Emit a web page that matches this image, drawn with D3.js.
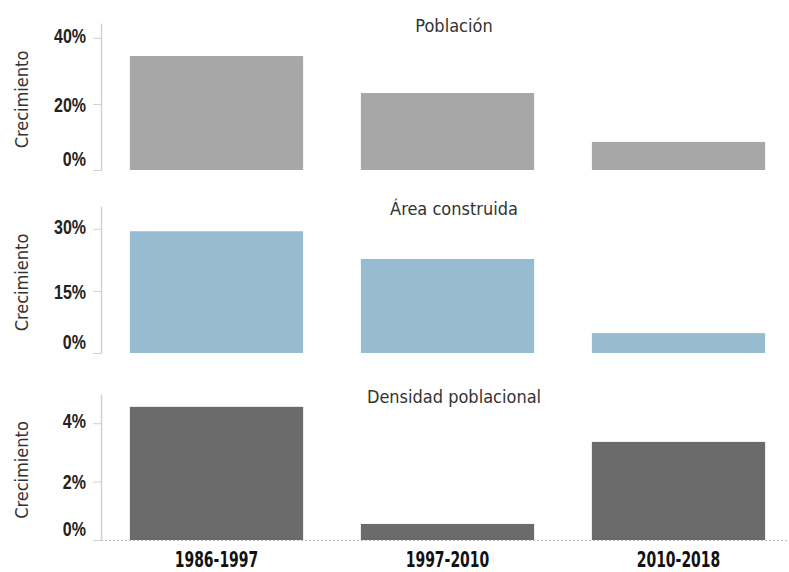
<!DOCTYPE html>
<html>
<head>
  <meta charset="utf-8">
  <script src="https://cdn.jsdelivr.net/npm/d3@7"></script>
  <style>
    body { margin: 0; background: #fff; }
    svg { display: block; font-family: "DejaVu Sans", sans-serif; font-stretch: condensed; }
  </style>
</head>
<body>
<div id="chart"></div>
<script>
  // data
  const periods = ["1986-1997", "1997-2010", "2010-2018"];
  const poblacion = [34.5, 23.3, 8.5];
  const areaConstruida = [29.4, 22.7, 4.8];
  const densidad = [4.56, 0.55, 3.36];

  const titles = ["Población", "Área construida", "Densidad poblacional"];
  const ticksPoblacion = [0, 20, 40];
  const ticksArea = [0, 15, 30];
  const ticksDensidad = [0, 2, 4];
  const yLabel = "Crecimiento";

  const width = 789, height = 572;
  const left = 101, right = 794;
  const tickSqueeze = 0.8;  // narrow the bold labels so they read as condensed
  const labelSqueeze = 0.74;

  const panels = [
    { title: titles[0], values: poblacion, ticks: ticksPoblacion, max: 44.5, top: 23, bottom: 170, color: "#a7a7a7" },
    { title: titles[1], values: areaConstruida, ticks: ticksArea, max: 35.5, top: 206, bottom: 353, color: "#97bbd1" },
    { title: titles[2], values: densidad, ticks: ticksDensidad, max: 5.0, top: 394, bottom: 540, color: "#6b6b6b" }
  ];

  const svg = d3.select("#chart").append("svg")
    .attr("width", width)
    .attr("height", height);

  const x = d3.scaleBand()
    .domain(periods)
    .range([left, right])
    .paddingInner(0.25)
    .paddingOuter(0.125);

  panels.forEach((p, k) => {
    const y = d3.scaleLinear()
      .domain([0, p.max])
      .range([p.bottom, p.top]);

    const g = svg.append("g");

    // dotted baseline only under the last panel
    if (k === panels.length - 1) {
      g.append("line")
        .attr("x1", left).attr("x2", width)
        .attr("y1", y(0) + 0.5).attr("y2", y(0) + 0.5)
        .attr("stroke", "#bbb")
        .attr("stroke-dasharray", "2,2");
    }

    g.selectAll("rect")
      .data(p.values)
      .join("rect")
      .attr("x", (d, i) => x(periods[i]))
      .attr("y", d => y(d))
      .attr("width", x.bandwidth())
      .attr("height", d => y(0) - y(d))
      .attr("fill", p.color);

    const axis = g.append("g")
      .attr("transform", `translate(${left},0)`)
      .call(d3.axisLeft(y).tickValues(p.ticks).tickFormat(d => d + "%").tickSize(8).tickSizeOuter(0));
    axis.select(".domain").attr("stroke", "#d0d0d0").attr("stroke-width", 1.5);
    axis.selectAll(".tick line").attr("stroke", "#d0d0d0");
    const topTick = d3.max(p.ticks);
    axis.selectAll(".tick text")
      .attr("x", -15 / tickSqueeze)
      // the zero label sits above its tick, the top one a little high
      .attr("dy", d => d === 0 ? "-0.25em" : d === topTick ? "0.22em" : "0.36em")
      .attr("transform", `scale(${tickSqueeze},1)`)
      .attr("fill", "#222")
      .style("font-size", "20px")
      .style("font-weight", "bold");

    g.append("text")
      .attr("x", 454)
      .attr("y", p.top + 9)
      .attr("text-anchor", "middle")
      .attr("fill", "#333")
      .style("font-size", "18px")
      .text(p.title);

    g.append("text")
      .attr("transform", `translate(28,${(p.top + p.bottom) / 2 + 3}) rotate(-90)`)
      .attr("text-anchor", "middle")
      .attr("fill", "#333")
      .style("font-size", "18px")
      .text(yLabel);
  });

  // period labels under the last panel
  svg.append("g")
    .attr("transform", `scale(${labelSqueeze},1)`)
    .selectAll("text")
    .data(periods)
    .join("text")
    .attr("x", d => (x(d) + x.bandwidth() / 2) / labelSqueeze)
    .attr("y", 567)
    .attr("text-anchor", "middle")
    .attr("fill", "#111")
    .style("font-size", "21px")
    .style("font-weight", "bold")
    .text(d => d);
</script>
</body>
</html>
